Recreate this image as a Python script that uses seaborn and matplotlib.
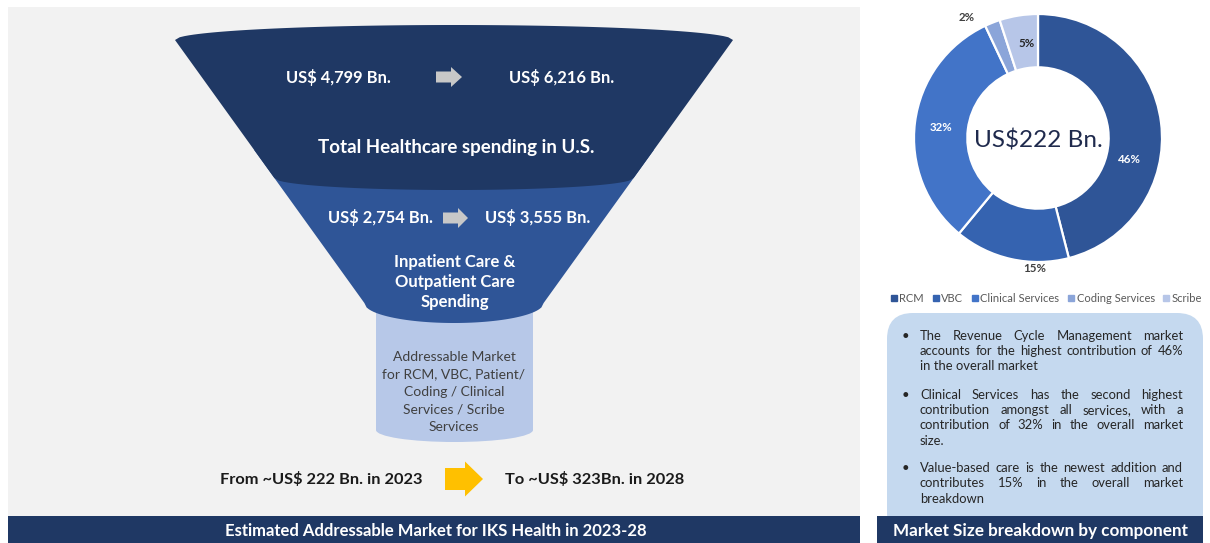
import numpy as np
import matplotlib
matplotlib.use("Agg")
import matplotlib.pyplot as plt
import seaborn as sns
from matplotlib.patches import Polygon, Rectangle, FancyBboxPatch, Ellipse
from matplotlib.lines import Line2D

# ---------------- data ----------------
funnel_labels = ["Total Healthcare spending in U.S.",
                 "Inpatient Care &\nOutpatient Care\nSpending",
                 "Addressable Market\nfor RCM, VBC, Patient/\nCoding / Clinical\nServices / Scribe\nServices"]
start_values = ["US$ 4,799 Bn.", "US$ 2,754 Bn."]
end_values = ["US$ 6,216 Bn.", "US$ 3,555 Bn."]
market_from = "From ~US$ 222 Bn. in 2023"
market_to = "To ~US$ 323Bn. in 2028"
components = ["RCM", "VBC", "Clinical Services", "Coding Services", "Scribe"]
shares = [46, 15, 32, 2, 5]
donut_center_label = "US$222 Bn."
left_title = "Estimated Addressable Market for IKS Health in 2023-28"
right_title = "Market Size breakdown by component"
bullets = [
    ["The Revenue Cycle Management market",
     "accounts for the highest contribution of 46%",
     "in the overall market"],
    ["Clinical Services has the second highest",
     "contribution amongst all services, with a",
     "contribution of 32% in the overall market",
     "size."],
    ["Value-based care is the newest addition and",
     "contributes 15% in the overall market",
     "breakdown"],
]

# ---------------- style ----------------
sns.set_theme(style="white")
plt.rcParams['font.family'] = ['Lato', 'DejaVu Sans']

NAVY = "#1f3864"
BLUE = "#2f5597"
LIGHT = "#b7c8e8"
GREY_BG = "#f2f2f2"
donut_colors = sns.color_palette(["#2f5597", "#3563b0", "#4274c8", "#8ba5d9", "#b7c6e8"])

W, H = 1210, 543
fig = plt.figure(figsize=(W / 100, H / 100), dpi=100)
fig.patch.set_facecolor("white")
ax = fig.add_axes([0, 0, 1, 1])
ax.set_xlim(0, W)
ax.set_ylim(H, 0)
ax.axis("off")

# backgrounds
ax.add_patch(Rectangle((8, 7), 852, 510, facecolor=GREY_BG, edgecolor="none", zorder=0))
ax.add_patch(Rectangle((8, 516), 852, 27, facecolor=NAVY, edgecolor="none", zorder=1))
ax.text(436, 531, left_title, color="white", fontsize=12, fontweight="bold",
        ha="center", va="center", zorder=5)

# ---------------- funnel ----------------
cx, top_y, top_hw, slope = 454, 40, 279, 0.72


def hw(y):
    return top_hw - slope * (y - top_y)


def lower_arc(y, b, n=80):
    a = hw(y)
    xs = np.linspace(cx + a, cx - a, n)
    ys = y + b * np.sqrt(np.clip(1 - ((xs - cx) / a) ** 2, 0, 1))
    return np.column_stack([xs, ys])


# cylinder (addressable market)
cyl_l, cyl_r, cyl_bot = 376, 533, 430
ax.add_patch(Rectangle((cyl_l, 280), cyl_r - cyl_l, cyl_bot - 280, facecolor=LIGHT,
                       edgecolor="none", zorder=2))
ax.add_patch(Ellipse((cx + 0.5, cyl_bot), cyl_r - cyl_l, 24, facecolor=LIGHT,
                     edgecolor="none", zorder=2))

# blue layer
y_a, y_b = 150, 303
pts = [(cx - hw(y_a), y_a), (cx + hw(y_a), y_a)]
blue_poly = np.vstack([pts, lower_arc(y_b, 20)])
ax.add_patch(Polygon(blue_poly, closed=True, facecolor=BLUE, edgecolor="none", zorder=3))

# dark top layer
xs = np.linspace(cx - top_hw, cx + top_hw, 120)
top_arc = np.column_stack([xs, top_y - 15 * np.sqrt(1 - ((xs - cx) / top_hw) ** 2)])
dark_poly = np.vstack([top_arc, lower_arc(178, 12)])
ax.add_patch(Polygon(dark_poly, closed=True, facecolor=NAVY, edgecolor="none", zorder=4))


def block_arrow(x0, y0, length, shaft, head, head_len, color, z=6):
    h2, s2 = head / 2, shaft / 2
    p = [(x0, y0 - s2), (x0 + length - head_len, y0 - s2), (x0 + length - head_len, y0 - h2),
         (x0 + length, y0), (x0 + length - head_len, y0 + h2), (x0 + length - head_len, y0 + s2),
         (x0, y0 + s2)]
    ax.add_patch(Polygon(p, closed=True, facecolor=color, edgecolor="none", zorder=z))


# top level texts
ax.text(338, 77, start_values[0], color="white", fontsize=11.9, fontweight="bold",
        ha="center", va="center", zorder=6)
block_arrow(436, 77, 26, 11, 20, 11, "#c8c8c8")
ax.text(562, 77, end_values[0], color="white", fontsize=11.9, fontweight="bold",
        ha="center", va="center", zorder=6)
ax.text(456, 147, funnel_labels[0], color="white", fontsize=13.5, fontweight="bold",
        ha="center", va="center", zorder=6)

# second level texts
ax.text(380, 218, start_values[1], color="white", fontsize=11.9, fontweight="bold",
        ha="center", va="center", zorder=6)
block_arrow(443, 218, 25, 11, 20, 10, "#c8c8c8")
ax.text(538, 218, end_values[1], color="white", fontsize=11.9, fontweight="bold",
        ha="center", va="center", zorder=6)
ax.text(455, 282, funnel_labels[1], color="white", fontsize=12, fontweight="bold",
        ha="center", va="center", linespacing=1.33, zorder=6)

# third level text
ax.text(454, 392, funnel_labels[2], color="#404040", fontsize=10,
        ha="center", va="center", linespacing=1.55, zorder=6)

# growth line
ax.text(321, 480, market_from, color="#1a1a1a", fontsize=11.8, fontweight="bold",
        ha="center", va="center", zorder=6)
block_arrow(445, 479, 38, 22, 35, 18, "#ffc000")
ax.text(595, 480, market_to, color="#1a1a1a", fontsize=11.8, fontweight="bold",
        ha="center", va="center", zorder=6)

# ---------------- donut ----------------
dcx, dcy, R = 1038, 138, 124
ax2 = fig.add_axes([(dcx - R) / W, 1 - (dcy + R) / H, 2 * R / W, 2 * R / H])
wedges, _ = ax2.pie(shares, colors=donut_colors, startangle=90, counterclock=False,
                    radius=1, wedgeprops=dict(width=0.43, edgecolor="white", linewidth=1.6))
ax2.set_xlim(-1, 1)
ax2.set_ylim(-1, 1)
ax2.set_aspect("equal")
ax2.axis("off")

lab_offset = [-20.6, 11.3, 1.2, 8.8, -2.4]
lab_radius = [0.76, 1.05, 0.79, 1.13, 0.77]
lab_color = ["white", "#404040", "white", "#404040", "#262626"]
for w, s, off, r, c in zip(wedges, shares, lab_offset, lab_radius, lab_color):
    ang = np.deg2rad((w.theta1 + w.theta2) / 2 + off)
    ax2.text(r * np.cos(ang), r * np.sin(ang), f"{s}%", color=c, fontsize=8.3,
             fontweight="bold", ha="center", va="center", clip_on=False)
ax2.text(0, -0.02, donut_center_label, color="#1f2a4d", fontsize=17.5,
         ha="center", va="center")

# legend
handles = [Line2D([], [], marker="s", linestyle="", color=c, markersize=3.8) for c in donut_colors]
fig.legend(handles, components, ncol=5, loc="center", bbox_to_anchor=(1046 / W, 1 - 298 / H),
           frameon=False, fontsize=8, handletextpad=0.15, columnspacing=0.7,
           handlelength=0.7, labelcolor="#595959", borderaxespad=0)

# ---------------- text box ----------------
ax.add_patch(FancyBboxPatch((887, 313), 316, 225, boxstyle="round,pad=0,rounding_size=26",
                            facecolor="#c5d9ef", edgecolor="none", zorder=1))
ax.add_patch(Rectangle((877, 516), 326, 27, facecolor=NAVY, edgecolor="none", zorder=2))
ax.text(1040, 531, right_title, color="white", fontsize=12.3, fontweight="bold",
        ha="center", va="center", zorder=5)

fig.canvas.draw()
renderer = fig.canvas.get_renderer()
x_left, x_right = 920, 1183
fs = 9.4
line_ys = [[336, 351, 366], [395, 410, 425, 441], [468, 483, 499]]


def text_width(s):
    t = ax.text(0, 0, s, fontsize=fs)
    bb = t.get_window_extent(renderer)
    t.remove()
    return bb.width


for para, ys in zip(bullets, line_ys):
    ax.text(905, ys[0], "\u2022", fontsize=fs, color="#262626", ha="center", va="center", zorder=5)
    for i, (line, y) in enumerate(zip(para, ys)):
        words = line.split(" ")
        last = i == len(para) - 1
        if last or len(words) == 1:
            ax.text(x_left, y, line, fontsize=fs, color="#262626", ha="left", va="center", zorder=5)
            continue
        widths = [text_width(wd) for wd in words]
        gap = (x_right - x_left - sum(widths)) / (len(words) - 1)
        x = x_left
        for wd, wdt in zip(words, widths):
            ax.text(x, y, wd, fontsize=fs, color="#262626", ha="left", va="center", zorder=5)
            x += wdt + gap

fig.savefig("out.png", dpi=100, facecolor="white")
